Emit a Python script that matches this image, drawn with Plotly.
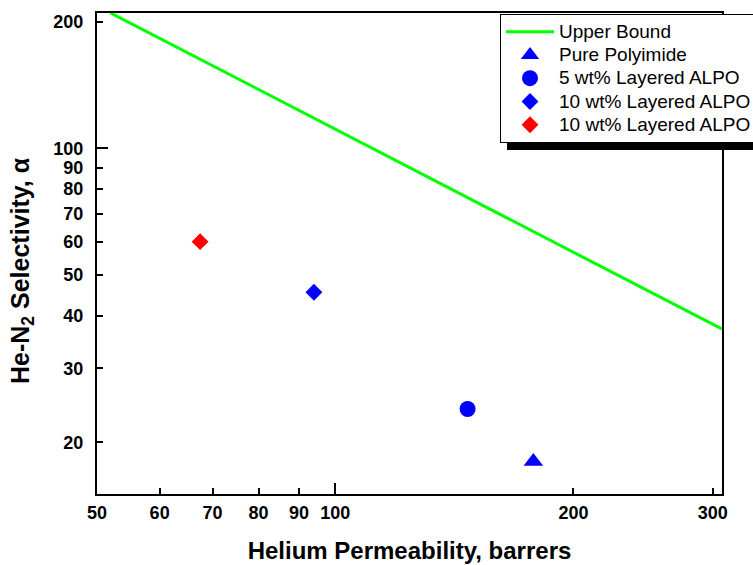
import plotly.graph_objects as go

# ---- data ----
ub_x = [52, 308]
ub_y = [210, 37.2]

series_names = ["Pure Polyimide", "5 wt% Layered ALPO", "10 wt% Layered ALPO", "10 wt% Layered ALPO"]
series_x = [178, 147, 94, 67.5]
series_y = [18, 24, 45.5, 60]
series_symbols = ["triangle-up", "circle", "diamond", "diamond"]
series_colors = ["#0000ff", "#0000ff", "#0000ff", "#ff0000"]
series_sizes = [17, 16, 13, 13]

x_ticks = [50, 60, 70, 80, 90, 100, 200, 300]
y_ticks = [20, 30, 40, 50, 60, 70, 80, 90, 100, 200]
x_major = [100]
y_major = [100]

x_range = [1.699, 2.4888]
y_range = [1.178, 2.322]

FONT = "Liberation Sans, Arial, sans-serif"


def leg(name):
    return "<span style='font-size:19px'>" + name + "</span>"


fig = go.Figure()
fig.add_trace(go.Scatter(x=ub_x, y=ub_y, mode="lines", name=leg("Upper Bound"),
                         line=dict(color="#00ff00", width=3),
                         xaxis="x2", yaxis="y2"))
for n, xv, yv, s, c, sz in zip(series_names, series_x, series_y, series_symbols, series_colors, series_sizes):
    fig.add_trace(go.Scatter(x=[xv], y=[yv], mode="markers", name=leg(n),
                             marker=dict(symbol=s, color=c, size=sz, line=dict(width=0))))

axis_common = dict(type="log", showgrid=False, zeroline=False, ticks="inside",
                   tickcolor="black", tickwidth=1.5, showline=True, linecolor="black",
                   linewidth=2, mirror=True, tickmode="array", automargin=False,
                   tickfont=dict(family=FONT, size=18, color="black", weight="bold"))

fig.update_layout(
    width=753, height=565,
    margin=dict(l=97, r=31, t=13, b=71, autoexpand=False),
    paper_bgcolor="white", plot_bgcolor="white",
    showlegend=True,
    xaxis=dict(**axis_common, range=x_range, tickvals=x_ticks, ticktext=[str(v) for v in x_ticks],
               ticklen=6, ticklabelstandoff=1,
               title=dict(text="Helium Permeability, barrers", standoff=21,
                          font=dict(family=FONT, size=24, color="black", weight="bold"))),
    yaxis=dict(**axis_common, range=y_range, tickvals=y_ticks, ticktext=[str(v) for v in y_ticks],
               ticklen=6, ticklabelstandoff=8),
    xaxis2=dict(type="log", range=x_range, overlaying="x", anchor="y2", side="bottom",
                showgrid=False, zeroline=False, showline=False, ticks="inside",
                tickmode="array", tickvals=x_major, ticklen=11, tickwidth=1.5,
                tickcolor="black", showticklabels=False, automargin=False),
    yaxis2=dict(type="log", range=y_range, overlaying="y", anchor="x2", side="left",
                showgrid=False, zeroline=False, showline=False, ticks="inside",
                tickmode="array", tickvals=y_major, ticklen=11, tickwidth=1.5,
                tickcolor="black", showticklabels=False, automargin=False),
    legend=dict(x=(500 - 97) / 625, y=1.0 - 1 / 481, xanchor="left", yanchor="top",
                bgcolor="white", bordercolor="black", borderwidth=1,
                font=dict(family=FONT, size=15.6, color="black"),
                itemwidth=48, traceorder="normal"),
    shapes=[dict(type="rect", xref="paper", yref="paper",
                 x0=(507 - 97) / 625, x1=1.2, y0=(494 - 150) / 481, y1=(494 - 22) / 481,
                 fillcolor="black", line=dict(width=0), layer="above")],
    annotations=[dict(text="He-N<sub>2</sub> Selectivity, \u03b1", xref="paper", yref="paper",
                      x=(22 - 97) / 625, y=(494 - 271) / 481, xanchor="center", yanchor="middle",
                      textangle=-90, showarrow=False,
                      font=dict(family=FONT, size=25, color="black", weight="bold"))],
)

fig.write_html("out.html", config={"displayModeBar": False},
               post_script="document.body.style.margin='0';document.body.style.overflow='hidden';")
